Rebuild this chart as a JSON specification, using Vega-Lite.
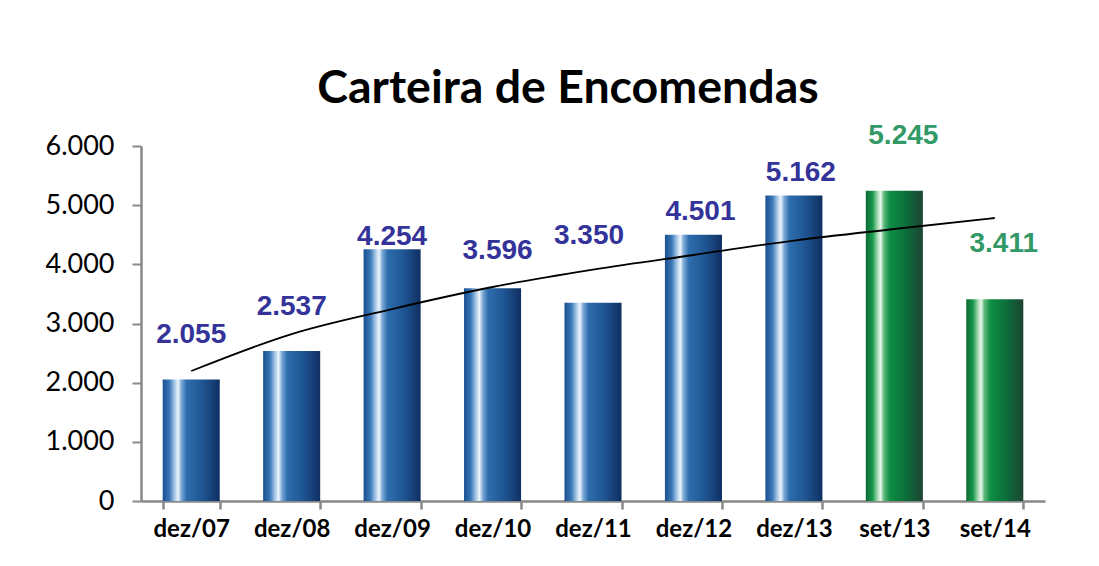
{
  "$schema": "https://vega.github.io/schema/vega-lite/v6.json",
  "width": 904,
  "height": 355,
  "autosize": {"type": "none"},
  "padding": {"left": 141, "top": 146, "right": 54, "bottom": 65},
  "background": "white",
  "config": {
    "locale": {"number": {"decimal": ",", "thousands": ".", "grouping": [3], "currency": ["R$", ""]}},
    "view": {"stroke": null}
  },
  "title": {
    "text": "Carteira de Encomendas",
    "font": "Lato",
    "fontSize": 46.5,
    "fontWeight": "bold",
    "color": "black",
    "anchor": "middle",
    "frame": "group",
    "dx": -25,
    "dy": 71,
    "baseline": "alphabetic",
    "offset": 43
  },
  "data": {
    "values": [
      {"cat": "dez/07", "value": 2055, "trend": 2197, "group": "dez"},
      {"cat": "dez/08", "value": 2537, "trend": 2822, "group": "dez"},
      {"cat": "dez/09", "value": 4254, "trend": 3245, "group": "dez"},
      {"cat": "dez/10", "value": 3596, "trend": 3617, "group": "dez"},
      {"cat": "dez/11", "value": 3350, "trend": 3910, "group": "dez"},
      {"cat": "dez/12", "value": 4501, "trend": 4158, "group": "dez"},
      {"cat": "dez/13", "value": 5162, "trend": 4401, "group": "dez"},
      {"cat": "set/13", "value": 5245, "trend": 4597, "group": "set"},
      {"cat": "set/14", "value": 3411, "trend": 4783, "group": "set"}
    ]
  },
  "encoding": {
    "x": {
      "field": "cat",
      "type": "nominal",
      "sort": null,
      "scale": {"paddingInner": 0.432, "paddingOuter": 0.216},
      "axis": {
        "title": null,
        "tickBand": "extent",
        "domainColor": "#888888",
        "domainWidth": 2.5,
        "tickColor": "#888888",
        "tickWidth": 2.5,
        "tickSize": 8,
        "labelFont": "Lato",
        "labelFontSize": 24,
        "labelFontWeight": "bold",
        "labelColor": "black",
        "labelPadding": 8,
        "labelAngle": 0
      }
    }
  },
  "layer": [
    {
      "transform": [{"filter": "datum.group === 'dez'"}],
      "mark": {
        "type": "bar",
        "color": {
          "gradient": "linear", "x1": 0, "y1": 0, "x2": 1, "y2": 0,
          "stops": [
            {"offset": 0, "color": "#1b4f8e"},
            {"offset": 0.12, "color": "#3a78b8"},
            {"offset": 0.21, "color": "#a9c8e8"},
            {"offset": 0.27, "color": "#eef5fc"},
            {"offset": 0.33, "color": "#7aa7d6"},
            {"offset": 0.42, "color": "#2e6eae"},
            {"offset": 0.7, "color": "#1f5592"},
            {"offset": 1, "color": "#0f2f62"}
          ]
        }
      },
      "encoding": {
        "y": {
          "field": "value",
          "type": "quantitative",
          "scale": {"domain": [0, 6000], "nice": false},
          "axis": {
            "title": null,
            "values": [0, 1000, 2000, 3000, 4000, 5000, 6000],
            "labelExpr": "format(datum.value, ',.0f')",
            "grid": false,
            "domainColor": "#888888",
            "domainWidth": 2.5,
            "tickColor": "#888888",
            "tickWidth": 2,
            "tickSize": 9,
            "labelFont": "Lato",
            "labelFontSize": 27,
            "labelColor": "black",
            "labelPadding": 18
          }
        }
      }
    },
    {
      "transform": [{"filter": "datum.group === 'set'"}],
      "mark": {
        "type": "bar",
        "color": {
          "gradient": "linear", "x1": 0, "y1": 0, "x2": 1, "y2": 0,
          "stops": [
            {"offset": 0, "color": "#0c6a35"},
            {"offset": 0.12, "color": "#189a4c"},
            {"offset": 0.2, "color": "#9fd6ac"},
            {"offset": 0.26, "color": "#eaf7ee"},
            {"offset": 0.32, "color": "#5cb87a"},
            {"offset": 0.42, "color": "#0f8f45"},
            {"offset": 0.7, "color": "#0c6e3a"},
            {"offset": 1, "color": "#1d4433"}
          ]
        }
      },
      "encoding": {
        "y": {"field": "value", "type": "quantitative", "axis": {"title": null}}
      }
    },
    {
      "mark": {"type": "line", "color": "black", "strokeWidth": 1.8, "interpolate": "monotone"},
      "encoding": {
        "y": {"field": "trend", "type": "quantitative", "axis": {"title": null}}
      }
    },
    {
      "transform": [{"filter": {"field": "cat", "oneOf": ["dez/09"]}}],
      "mark": {"type": "text", "font": "Liberation Sans", "fontSize": 28, "fontWeight": "bold", "color": "#333399", "baseline": "middle", "dy": -12},
      "encoding": {
        "y": {"field": "value", "type": "quantitative", "axis": {"title": null}},
        "text": {"field": "value", "type": "quantitative", "format": ","}
      }
    },
    {
      "transform": [{"filter": {"field": "cat", "oneOf": ["dez/12", "dez/13"]}}],
      "mark": {"type": "text", "font": "Liberation Sans", "fontSize": 28, "fontWeight": "bold", "color": "#333399", "baseline": "middle", "dy": -23, "dx": 7},
      "encoding": {
        "y": {"field": "value", "type": "quantitative", "axis": {"title": null}},
        "text": {"field": "value", "type": "quantitative", "format": ","}
      }
    },
    {
      "transform": [{"filter": {"field": "cat", "oneOf": ["dez/10"]}}],
      "mark": {"type": "text", "font": "Liberation Sans", "fontSize": 28, "fontWeight": "bold", "color": "#333399", "baseline": "middle", "dy": -37, "dx": 5},
      "encoding": {
        "y": {"field": "value", "type": "quantitative", "axis": {"title": null}},
        "text": {"field": "value", "type": "quantitative", "format": ","}
      }
    },
    {
      "transform": [{"filter": {"field": "cat", "oneOf": ["dez/07", "dez/08"]}}],
      "mark": {"type": "text", "font": "Liberation Sans", "fontSize": 28, "fontWeight": "bold", "color": "#333399", "baseline": "middle", "dy": -44},
      "encoding": {
        "y": {"field": "value", "type": "quantitative", "axis": {"title": null}},
        "text": {"field": "value", "type": "quantitative", "format": ","}
      }
    },
    {
      "transform": [{"filter": {"field": "cat", "oneOf": ["dez/11"]}}],
      "mark": {"type": "text", "font": "Liberation Sans", "fontSize": 28, "fontWeight": "bold", "color": "#333399", "baseline": "middle", "dy": -67, "dx": -4},
      "encoding": {
        "y": {"field": "value", "type": "quantitative", "axis": {"title": null}},
        "text": {"field": "value", "type": "quantitative", "format": ","}
      }
    },
    {
      "transform": [{"filter": {"field": "cat", "oneOf": ["set/13", "set/14"]}}],
      "mark": {"type": "text", "font": "Liberation Sans", "fontSize": 28, "fontWeight": "bold", "color": "#339966", "baseline": "middle", "dy": -55, "dx": 9},
      "encoding": {
        "y": {"field": "value", "type": "quantitative", "axis": {"title": null}},
        "text": {"field": "value", "type": "quantitative", "format": ","}
      }
    }
  ]
}
